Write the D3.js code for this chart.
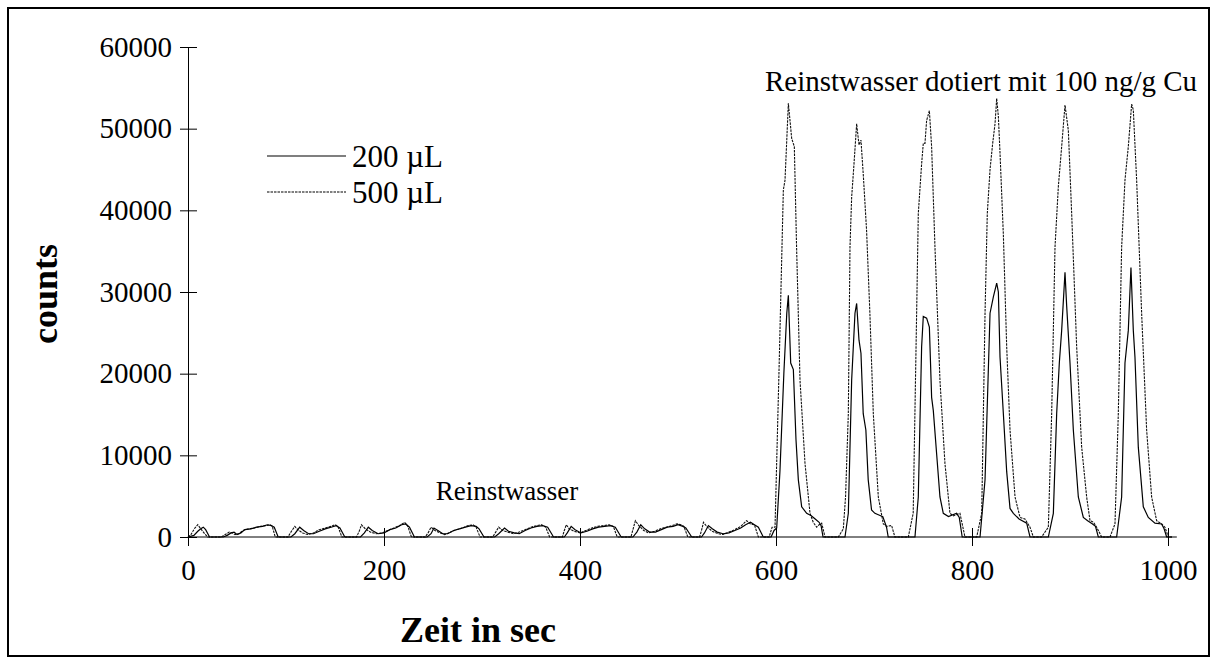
<!DOCTYPE html>
<html>
<head>
<meta charset="utf-8">
<script src="https://cdn.jsdelivr.net/npm/d3@7"></script>
<style>
html,body{margin:0;padding:0;background:#fff;}
svg{display:block;}
text{font-family:"Liberation Serif","Times New Roman",serif;fill:#000;}
</style>
</head>
<body>
<svg id="chart" width="1217" height="664"></svg>
<script>
// ---- data (time in s, counts) ----
const xTicks = [0, 200, 400, 600, 800, 1000];
const yTicks = [0, 10000, 20000, 30000, 40000, 50000, 60000];
const seriesNames = ["200 µL", "500 µL"];

const series200 = [
  [0,0],[6,200],[10,700],[13,1000],[15.6,1200],[18,900],[22,0],
  [36,0],[40,200],[44,500],[47,600],[50,300],[54,500],[58,900],[64,1000],[70,1200],[76,1300],[81,1500],[85,1400],[88,1200],[92,0],
  [105,0],[109,400],[114,1200],[118,800],[123,400],[128,400],[134,700],[140,1000],[146,1200],[151,1400],[155,1100],[160,0],
  [176,0],[180,500],[184,1200],[188,800],[194,400],[200,500],[206,900],[212,1100],[218,1500],[222,1600],[226,1200],[231,0],
  [244,0],[248,400],[251,1100],[255,800],[260,400],[265,400],[271,800],[277,1000],[283,1200],[289,1400],[294,1300],[297,1000],[302,0],
  [313,0],[317,400],[323,1100],[327,700],[333,500],[338,400],[344,800],[350,1100],[356,1300],[362,1400],[367,1200],[373,0],
  [384,0],[387,500],[391,1300],[395,900],[401,500],[407,700],[413,1000],[419,1200],[425,1300],[431,1400],[436,1200],[442,0],
  [454,0],[458,600],[462,1500],[466,1000],[471,600],[477,600],[483,900],[489,1200],[495,1300],[500,1500],[505,1300],[508,1100],[514,0],
  [524,0],[527,500],[531,1400],[535,1000],[540,600],[546,400],[552,500],[558,800],[564,1100],[569,1500],[574,1800],[578,1500],[582,1200],[587,0],
  [595,0],[598,800],[600.7,1100],[604,8000],[608,20000],[611,27400],[612.6,29600],[615,21300],[617.7,20500],[620.4,11900],[622.8,7000],[626.2,3700],[631.3,2900],[636,2600],[640,2200],[644,1800],[646,1400],[648,0],
  [670.4,0],[673.8,2900],[677.2,19200],[680.6,27400],[682.3,28600],[684.7,24100],[686.7,22500],[689,15100],[691.7,13100],[694.1,7000],[697.5,3300],[700.9,2900],[705,2700],[709,2500],[712.8,1200],[714.5,0],
  [741.8,0],[745.2,4900],[748.6,23300],[750.3,27000],[753.7,26800],[756.5,25700],[758.8,17100],[760.5,15500],[763.9,10200],[767.3,4900],[770.7,2900],[776,2500],[784.3,2900],[787,2400],[790,0],
  [808.2,0],[813.3,7000],[818.4,27400],[821.8,29400],[825.2,31100],[826.9,30000],[828.6,22000],[832,15100],[835.4,8000],[838.8,3500],[842.2,2900],[848,2200],[855.8,1700],[859.2,0],
  [877.9,0],[883,2900],[886.4,15100],[889.1,21300],[891.5,25300],[894.9,32400],[896.6,28300],[900,21300],[903.4,13100],[908.5,4900],[913.6,2400],[918,2000],[923,1600],[926,1300],[928.9,0],
  [947.6,0],[952.7,4900],[956.1,21300],[959.5,25300],[962.2,33000],[964.6,25300],[966.3,22000],[969.7,11000],[974.8,3700],[979.9,2400],[986.7,1700],[993.5,1600],[996,1000],[998.6,0],[1004,0]
];

const series500 = [
  [0,0],[3,300],[7,1100],[10,1500],[13,1000],[17,400],[20,0],
  [34,0],[38,300],[42,600],[45,500],[48,300],[52,400],[56,800],[62,1000],[68,1100],[74,1300],[80,1400],[84,1500],[86,1300],[89,0],
  [102,0],[105,600],[109,1300],[112,900],[117,500],[122,300],[128,500],[134,900],[140,1100],[146,1300],[150,1500],[153,1300],[157,0],
  [172,0],[175,800],[177,1500],[181,1000],[186,600],[192,400],[198,500],[204,800],[210,1100],[216,1400],[221,1800],[224,1400],[228,0],
  [242,0],[245,500],[248,1200],[252,800],[257,500],[262,300],[268,600],[274,900],[280,1100],[286,1400],[291,1500],[294,1200],[298,0],
  [311,0],[314,600],[317,1200],[321,800],[326,600],[332,400],[338,600],[344,900],[350,1200],[356,1400],[361,1500],[365,1200],[369,0],
  [382,0],[384,800],[386,1500],[389,1000],[394,700],[400,500],[406,800],[412,1100],[418,1300],[424,1400],[430,1500],[434,1300],[438,0],
  [452,0],[454,900],[456.5,2000],[460,1400],[465,800],[470,500],[476,700],[482,1000],[488,1200],[494,1400],[499,1600],[503,1500],[506,1300],[510,0],
  [522,0],[524,800],[526,1800],[530,1200],[535,700],[541,400],[546,300],[552,600],[558,900],[564,1300],[570,2000],[574,1600],[578,1500],[582,0],
  [593,0],[596,1200],[599,1200],[603,20000],[607.5,42500],[609.2,43700],[612.6,53100],[614.3,51000],[616,48800],[618.7,47800],[621,35500],[624.5,19200],[629.6,9000],[634.7,2900],[638,1800],[641.5,1200],[644,1500],[646.6,1700],[650,0],
  [663.6,0],[668.7,1000],[671,5000],[673.8,15100],[675.5,35500],[677.2,41600],[679.6,45700],[682.3,50600],[684.7,48000],[686.7,48600],[689,44500],[692.4,37600],[695.8,27400],[699.3,15100],[704.4,4900],[709.5,1600],[713,1300],[718,1400],[721.3,0],
  [735,0],[740,2900],[743.5,27400],[745.2,39600],[748.6,45700],[750.3,48200],[752,48200],[753.7,51000],[756.5,52200],[758.8,47800],[762.2,35500],[767.3,19200],[772.4,9000],[777.5,2900],[781,2600],[787.7,2900],[792.8,0],
  [804.8,0],[809.9,2900],[813.3,27400],[815.6,39600],[818.4,45000],[821.1,48200],[823.5,50600],[825.2,53700],[826.9,51500],[828.6,47000],[832,37000],[835.4,23300],[838.8,13100],[843.9,4900],[849,2400],[854,2200],[859.2,1200],[862.6,0],
  [871,0],[877.9,1200],[881.3,15100],[884.7,35500],[888.1,42900],[891.5,47800],[894.9,52900],[898.3,49800],[901.7,39600],[906.8,23300],[911.9,11000],[917,4900],[920.4,2000],[924,1800],[927.2,1200],[932.3,0],
  [940.8,0],[945.9,1600],[949.3,15100],[952.7,35500],[956.1,43700],[959.5,47800],[962.9,53000],[964.6,52300],[968,43700],[973.1,27400],[978.2,13100],[983.3,4900],[988.4,2000],[993.5,1600],[996.9,1200],[1000.3,0],[1004,0]
];

// ---- drawing ----
const svg = d3.select("#chart");
const x = d3.scaleLinear().domain([0, 1000]).range([188, 1168]);
const y = d3.scaleLinear().domain([0, 60000]).range([537, 47]);
const serif = '"Liberation Serif","Times New Roman",serif';

// outer frame
svg.append("rect").attr("x", 8).attr("y", 8).attr("width", 1201).attr("height", 648)
  .attr("fill", "none").attr("stroke", "#000").attr("stroke-width", 2);

const line = d3.line().x(d => x(d[0])).y(d => y(d[1]));

// data lines
svg.append("path").datum(series500).attr("d", line)
  .attr("fill", "none").attr("stroke", "#111").attr("stroke-width", 1.1)
  .attr("stroke-dasharray", "2.5,1");
svg.append("path").datum(series200).attr("d", line)
  .attr("fill", "none").attr("stroke", "#000").attr("stroke-width", 1.2);

// y axis
const yAxis = svg.append("g").attr("transform", `translate(${x(0)},0)`)
  .call(d3.axisLeft(y).tickValues(yTicks).tickSize(0).tickPadding(16).tickFormat(d3.format("d")));
yAxis.select(".domain").attr("stroke", "#000").attr("stroke-width", 1);
yAxis.selectAll(".tick line").attr("x1", -8).attr("x2", 9).attr("stroke", "#000");
yAxis.selectAll(".tick text").attr("font-size", 29).style("font-family", serif);

// x axis
const xAxis = svg.append("g").attr("transform", `translate(0,${y(0)})`)
  .call(d3.axisBottom(x).tickValues(xTicks).tickSize(0).tickPadding(22).tickFormat(d3.format("d")));
xAxis.select(".domain").attr("d", `M${x(0)},0H${x(1009)}`).attr("stroke", "#000").attr("stroke-width", 1);
xAxis.selectAll(".tick line").attr("y1", -9).attr("y2", 9).attr("stroke", "#000");
xAxis.selectAll(".tick text").attr("font-size", 29).style("font-family", serif);

// axis titles
svg.append("text").attr("x", 478).attr("y", 642).attr("text-anchor", "middle")
  .attr("font-size", 36).attr("font-weight", "bold").text("Zeit in sec");
svg.append("text").attr("transform", "translate(57,294) rotate(-90)").attr("text-anchor", "middle")
  .attr("font-size", 36).attr("font-weight", "bold").text("counts");

// annotations
svg.append("text").attr("x", 507).attr("y", 500).attr("text-anchor", "middle")
  .attr("font-size", 27).text("Reinstwasser");
svg.append("text").attr("x", 765).attr("y", 91).attr("text-anchor", "start")
  .attr("font-size", 29).attr("textLength", 432).attr("lengthAdjust", "spacingAndGlyphs")
  .text("Reinstwasser dotiert mit 100 ng/g Cu");

// legend
const legY = [156, 192];
seriesNames.forEach((name, i) => {
  svg.append("line").attr("x1", 267).attr("x2", 346).attr("y1", legY[i]).attr("y2", legY[i])
    .attr("stroke", "#000").attr("stroke-width", i === 0 ? 1.2 : 1.1)
    .attr("stroke-dasharray", i === 0 ? null : "2.5,1");
  svg.append("text").attr("x", 352).attr("y", legY[i] + 11).attr("font-size", 31).text(name);
});
</script>
</body>
</html>
